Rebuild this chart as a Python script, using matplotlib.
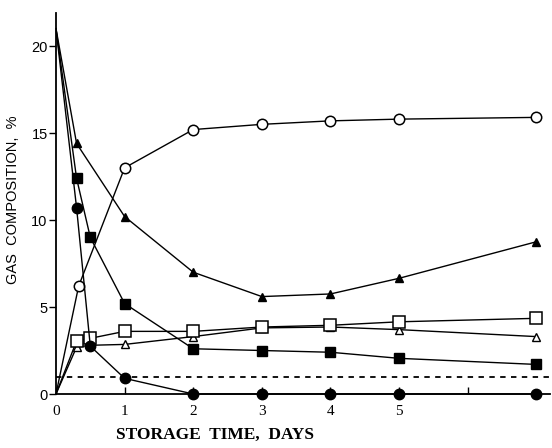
import matplotlib
matplotlib.use("Agg")
import matplotlib.pyplot as plt

# ---- data ----
t_open_circle = [0, 0.33, 1, 2, 3, 4, 5, 7]
v_open_circle = [0, 6.2, 13.0, 15.2, 15.5, 15.7, 15.8, 15.9]

t_filled_tri = [0, 0.3, 1, 2, 3, 4, 5, 7]
v_filled_tri = [21.0, 14.4, 10.2, 7.0, 5.6, 5.75, 6.65, 8.75]

t_filled_sq = [0, 0.3, 0.5, 1, 2, 3, 4, 5, 7]
v_filled_sq = [21.0, 12.4, 9.0, 5.2, 2.6, 2.5, 2.4, 2.05, 1.7]

t_filled_circ = [0, 0.3, 0.5, 1, 2, 3, 4, 5, 7]
v_filled_circ = [21.0, 10.7, 2.75, 0.9, 0.0, 0.0, 0.0, 0.0, 0.0]

t_open_sq = [0, 0.3, 0.5, 1, 2, 3, 4, 5, 7]
v_open_sq = [0, 3.05, 3.2, 3.6, 3.6, 3.85, 3.95, 4.15, 4.35]

t_open_tri = [0, 0.3, 0.5, 1, 2, 3, 4, 5, 7]
v_open_tri = [0, 2.7, 2.8, 2.85, 3.3, 3.8, 3.85, 3.7, 3.3]

ref_level = 1.0

x_ticks = [0, 1, 2, 3, 4, 5, 6]
x_ticklabels = ["0", "1", "2", "3", "4", "5", ""]
y_ticks = [0, 5, 10, 15, 20]
y_ticklabels = ["0", "5", "10", "15", "20"]

# ---- figure ----
W, H = 552, 448
fig = plt.figure(figsize=(W / 100, H / 100), dpi=100)
ax = fig.add_axes([56 / W, (H - 394) / H, (550 - 56) / W, (394 - 13) / H])
ax.set_xlim(0, 7.2)
ax.set_ylim(0, 21.9)

lw = 1.0
me = slice(1, None)  # no marker at the starting point
ax.axhline(ref_level, color="black", lw=1.3, ls=(0, (3, 3)), zorder=1)

ax.plot(t_filled_tri, v_filled_tri, color="black", lw=lw, marker="^", ms=6,
        mfc="black", mec="black", zorder=3, markevery=me)
ax.plot(t_open_tri, v_open_tri, color="black", lw=lw, marker="^", ms=6,
        mfc="white", mec="black", mew=1.0, zorder=3, markevery=me)
ax.plot(t_open_sq, v_open_sq, color="black", lw=lw, marker="s", ms=8,
        mfc="white", mec="black", mew=1.1, zorder=4, markevery=me)
ax.plot(t_filled_sq, v_filled_sq, color="black", lw=lw, marker="s", ms=7.5,
        mfc="black", mec="black", zorder=5, markevery=me)
ax.plot(t_open_circle, v_open_circle, color="black", lw=lw, marker="o", ms=7.5,
        mfc="white", mec="black", mew=1.1, zorder=5, markevery=me)
ax.plot(t_filled_circ, v_filled_circ, color="black", lw=lw, marker="o", ms=7.5,
        mfc="black", mec="black", zorder=6, clip_on=False, markevery=me)

for s in ["top", "right"]:
    ax.spines[s].set_visible(False)
for s in ["left", "bottom"]:
    ax.spines[s].set_linewidth(1.3)

ax.set_xticks(x_ticks)
ax.set_xticklabels(x_ticklabels, fontfamily="Liberation Serif", fontsize=11)
ax.set_yticks(y_ticks)
ax.set_yticklabels(y_ticklabels, fontfamily="Liberation Sans", fontsize=10.5)
ax.tick_params(axis="x", direction="in", length=5, width=1, pad=8)
ax.tick_params(axis="y", direction="out", length=5, width=1, pad=1)

ax.set_xlabel("STORAGE  TIME,  DAYS", fontfamily="Liberation Serif",
              fontweight="bold", fontsize=12.5)
ax.xaxis.set_label_coords((215 - 56) / (550 - 56), -(427 - 394) / (394 - 13))
ax.set_ylabel("GAS  COMPOSITION,  %", fontfamily="Liberation Sans", fontsize=10.5)
ax.yaxis.set_label_coords(-(56 - 20) / (550 - 56), (394 - 200) / (394 - 13))

fig.savefig("out.png", dpi=100, facecolor="white")
